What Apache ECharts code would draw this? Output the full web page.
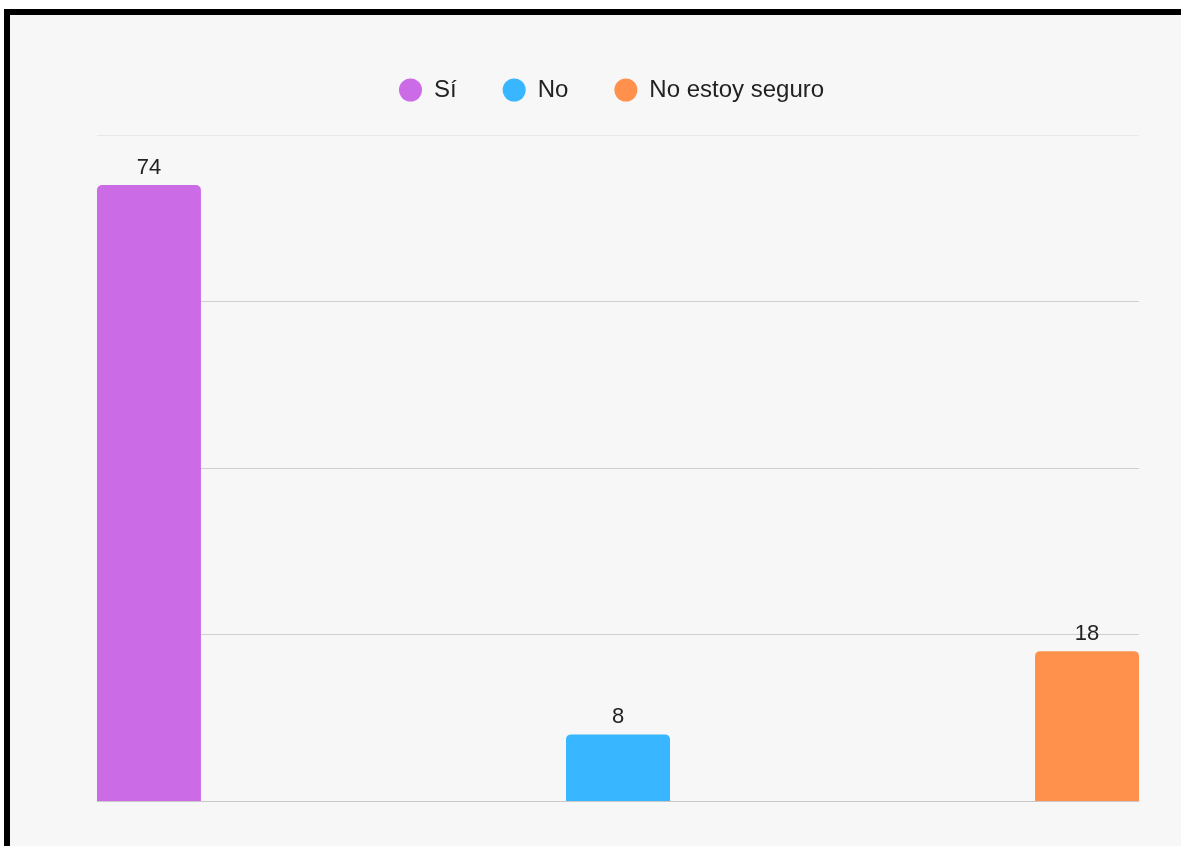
<!DOCTYPE html>
<html>
<head>
<meta charset="utf-8">
<script src="https://cdn.jsdelivr.net/npm/echarts@6/dist/echarts.min.js"></script>
<style>
html,body{margin:0;padding:0;background:#fff;overflow:hidden;}
#chart{position:absolute;left:0;top:0;width:1181px;height:846px;background:#f7f7f7;}
#wt{position:absolute;left:0;top:0;width:1181px;height:9px;background:#fff;}
#wl{position:absolute;left:0;top:0;width:4px;height:846px;background:#fff;}
#bt{position:absolute;left:4px;top:9px;width:1177px;height:6px;background:#000;}
#bl{position:absolute;left:4px;top:9px;width:6px;height:837px;background:#000;}
</style>
</head>
<body>
<div id="chart"></div>
<div id="wt"></div><div id="wl"></div><div id="bt"></div><div id="bl"></div>
<script>
const categories = [''];
const seriesNames = ['Sí', 'No', 'No estoy seguro'];
const seriesValues = [[74], [8], [18]];
const seriesColors = ['#cb6ce6', '#38b6ff', '#ff914d'];

const chart = echarts.init(document.getElementById('chart'));
const font = '"Liberation Sans", Arial, sans-serif';
chart.setOption({
  backgroundColor: '#f7f7f7',
  animation: false,
  textStyle: {fontFamily: font},
  legend: {
    top: 73,
    left: 394,
    icon: 'circle',
    itemWidth: 23,
    itemHeight: 23,
    itemGap: 46,
    textStyle: {fontSize: 24, color: '#222', fontFamily: font, padding: [0, 0, 0, 7]},
    data: seriesNames
  },
  grid: {left: 97, right: 42, top: 135, bottom: 45, containLabel: false},
  xAxis: {
    type: 'category',
    data: categories,
    axisLine: {lineStyle: {color: '#c8c8c8', width: 1}},
    axisTick: {show: false},
    axisLabel: {show: false}
  },
  yAxis: {
    type: 'value',
    min: 0, max: 80, interval: 20,
    axisLabel: {show: false},
    axisLine: {show: false},
    axisTick: {show: false},
    splitLine: {lineStyle: {color: ['#cfcfcf', '#cfcfcf', '#cfcfcf', '#cfcfcf', '#e8e8e8'], width: 1}}
  },
  series: seriesNames.map((n, i) => ({
    name: n,
    type: 'bar',
    data: seriesValues[i],
    barWidth: 104,
    barGap: '351%',
    itemStyle: {color: seriesColors[i], borderRadius: [5, 5, 0, 0]},
    label: {show: true, position: 'top', distance: 6, color: '#222', fontSize: 22, fontFamily: font}
  }))
});
</script>
</body>
</html>
